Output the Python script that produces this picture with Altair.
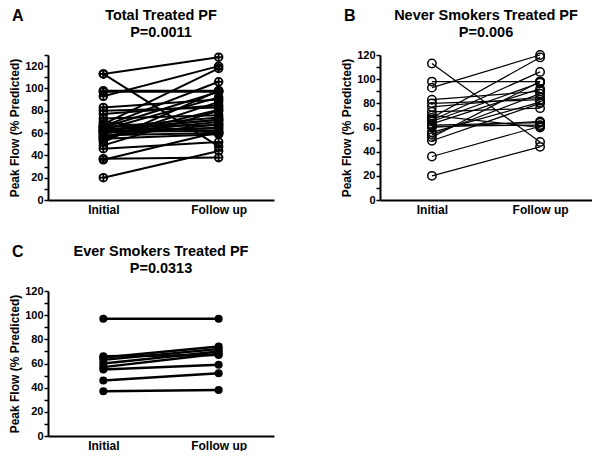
import altair as alt
import pandas as pd

# Never smokers (panel B)
never_initial = [113, 98, 93, 83, 80, 77, 73, 70, 68, 66, 65, 63, 62, 61, 60, 56, 54, 52, 49, 36, 20]
never_follow = [48, 98, 120, 90, 83, 85, 76, 60, 118, 106, 97, 92, 64, 62, 65, 81, 88, 98, 80, 61, 44]

# Ever smokers (panel C)
ever_initial = [97, 66, 65, 63, 60, 57, 55, 46, 37]
ever_follow = [97, 67, 74, 72, 70, 68, 59, 52, 38]

# Extra subjects only in total (panel A)
extra_initial = [113, 62, 58]
extra_follow = [128, 72, 60]

times = ["Initial", "Follow up"]
FONT = "Liberation Sans"


def make_df(initial, follow):
    rows = []
    for i, (a, b) in enumerate(zip(initial, follow)):
        rows.append({"subject": i, "time": times[0], "pf": a})
        rows.append({"subject": i, "time": times[1], "pf": b})
    return pd.DataFrame(rows)


df_never = make_df(never_initial, never_follow)
df_ever = make_df(ever_initial, ever_follow)
df_total = make_df(never_initial + ever_initial + extra_initial,
                   never_follow + ever_follow + extra_follow)

plus_circle = "M -1 0 A 1 1 0 1 1 1 0 A 1 1 0 1 1 -1 0 M -1 0 L 1 0 M 0 -1 L 0 1"


def panel(df, letter, title1, title2, ymax, w, h, style):
    x = alt.X("time:N", sort=times,
              scale=alt.Scale(type="point", padding=0.48),
              axis=alt.Axis(title=None, ticks=False, labelAngle=0, labelFontSize=12,
                            labelFontWeight="bold", labelFont=FONT, labelColor="black",
                            domainColor="black", domainWidth=2, labelPadding=4))
    y = alt.Y("pf:Q", scale=alt.Scale(domain=[0, ymax], nice=False),
              axis=alt.Axis(title="Peak Flow (% Predicted)", values=list(range(0, ymax + 1, 10)),
                            labelExpr="datum.value % 20 === 0 ? datum.label : ''",
                            grid=False, tickSize=4, tickWidth=1.5, tickColor="black",
                            domainColor="black", domainWidth=2,
                            labelFontSize=11, labelFontWeight="bold", labelFont=FONT,
                            labelColor="black", labelPadding=1,
                            titleFontSize=12, titleFontWeight="bold", titleFont=FONT,
                            titleColor="black", titlePadding=3))
    base = alt.Chart(df).encode(x=x, y=y, detail="subject:N")
    if style == "A":
        lines = base.mark_line(color="black", strokeWidth=2)
        pts = base.mark_point(shape=plus_circle, filled=False, color="black",
                              strokeWidth=1.8, size=60, opacity=1)
    elif style == "B":
        lines = base.mark_line(color="black", strokeWidth=1.2)
        pts = base.mark_point(shape="circle", filled=False, color="black",
                              strokeWidth=1.5, size=70, opacity=1)
    else:
        lines = base.mark_line(color="black", strokeWidth=2.5)
        pts = base.mark_point(shape="circle", filled=True, color="black",
                              size=65, opacity=1)
    lab = pd.DataFrame({"t": [letter]})
    letter_mark = alt.Chart(lab).mark_text(fontSize=16, fontWeight="bold", font=FONT,
                                           align="left", baseline="top", color="black").encode(
        text="t:N", x=alt.value(-36), y=alt.value(-47))
    t1 = alt.Chart(pd.DataFrame({"t": [title1]})).mark_text(
        fontSize=14.5, fontWeight="bold", font=FONT, align="center", baseline="middle",
        color="black").encode(text="t:N", x=alt.value(w / 2), y=alt.value(-39))
    t2 = alt.Chart(pd.DataFrame({"t": [title2]})).mark_text(
        fontSize=14.5, fontWeight="bold", font=FONT, align="center", baseline="middle",
        color="black").encode(text="t:N", x=alt.value(w / 2), y=alt.value(-22))
    return alt.layer(lines, pts, letter_mark, t1, t2).properties(width=w, height=h)


pA = panel(df_total, "A", "Total Treated PF", "P=0.0011", 130, 226, 145, "A")
pB = panel(df_never, "B", "Never Smokers Treated PF", "P=0.006", 120, 212, 145, "B")
pC = panel(df_ever, "C", "Ever Smokers Treated PF", "P=0.0313", 120, 226, 145, "C")

chart = alt.vconcat(
    alt.hconcat(pA, pB, spacing=66),
    pC, spacing=29
).properties(padding=0).configure_view(stroke=None)

chart.save("out.html", embed_options={"renderer": "svg", "actions": False})
